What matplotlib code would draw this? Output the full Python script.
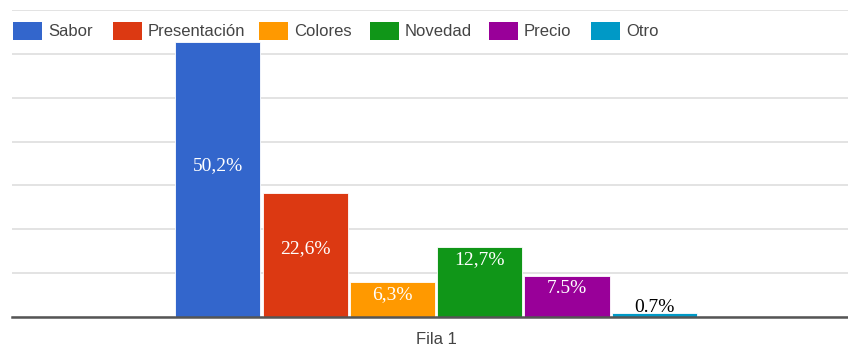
import matplotlib.pyplot as plt
from matplotlib.patches import Rectangle
import numpy as np

# survey result: share of answers per option, single row "Fila 1"
categories = ['Sabor', 'Presentación', 'Colores', 'Novedad', 'Precio', 'Otro']
values = [50.2, 22.6, 6.3, 12.7, 7.5, 0.7]
value_labels = ['50,2%', '22,6%', '6,3%', '12,7%', '7.5%', '0.7%']
group_label = 'Fila 1'

colors = ['#3366cc', '#dc3912', '#ff9900', '#109618', '#990099', '#0099c6']
label_font = ['Liberation Serif', 'DejaVu Serif']
ui_font = ['Liberation Sans', 'DejaVu Sans']

W, H = 848, 347
fig = plt.figure(figsize=(W / 100, H / 100), dpi=100)
ax = fig.add_axes([12 / W, 1 - 317 / H, 836 / W, 307 / H])

x = np.arange(len(categories))
bars = ax.bar(x, values, width=0.975, color=colors, edgecolor='white',
              linewidth=0.6, zorder=3)

# value labels sit inside the bars, the tiny one just above its bar
for b, v, txt in zip(bars, values, value_labels):
    cx = b.get_x() + b.get_width() / 2
    if v > 15:
        y, c = v * 0.55, 'white'
    elif v > 3:
        y, c = v - 2.3, 'white'
    else:
        y, c = v + 1.0, 'black'
    ax.text(cx, y, txt, ha='center', va='center', color=c,
            fontsize=14, family=label_font, zorder=4)

ax.set_xlim(-2.36, 7.22)
ax.set_ylim(0, 56)
ax.set_yticks(np.arange(0, 57, 8))
ax.yaxis.grid(True, color='#e3e3e3', linewidth=1.4, zorder=0)
ax.tick_params(left=False, bottom=False, labelleft=False, labelbottom=False)
for side in ['top', 'right', 'left']:
    ax.spines[side].set_visible(False)
ax.spines['bottom'].set_color('#555555')
ax.spines['bottom'].set_linewidth(1.8)
ax.spines['bottom'].set_zorder(5)

fig.text(436 / W, 1 - 340 / H, group_label, ha='center', va='center',
         fontsize=12, color='#444444', family=ui_font)

# legend row laid out by hand, swatch + label per series
legend_x = [13, 113, 259, 370, 489, 591]
for lx, c, name in zip(legend_x, colors, categories):
    fig.patches.append(Rectangle((lx / W, 1 - 40 / H), 29 / W, 18 / H,
                                 transform=fig.transFigure, facecolor=c,
                                 edgecolor='none', zorder=6))
    fig.text((lx + 35) / W, 1 - 31 / H, name, ha='left', va='center',
             fontsize=12, color='#444444', family=ui_font)

fig.savefig('out.png', dpi=100, facecolor='white')
